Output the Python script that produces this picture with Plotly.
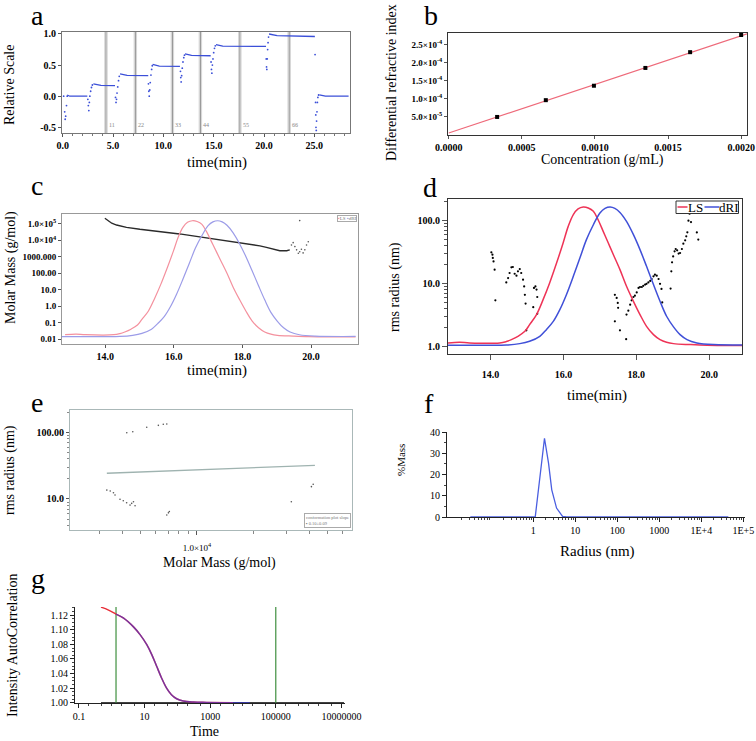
import plotly.graph_objects as go

W, H = 756, 741
SERIF = "Liberation Serif"


def px(x):
    return x / W


def py(y):
    return 1 - y / H


# ---------------- data ----------------
# (a) batch injections: plateaus (dense) and transitions (sparse dots)
a_plateau_t = [0.45, 0.7, 2.45, None, 3.05, 3.8, 5.2, None, 5.7, 6.4, 8.5, None,
               8.94, 9.6, 11.65, None, 12.15, 12.8, 14.7, None, 15.23, 15.9, 20.2, None,
               20.5, 21.3, 25.05, None, 25.5, 26.1, 28.4]
a_plateau_v = [0.02, 0.0, 0.0, None, 0.20, 0.175, 0.17, None, 0.36, 0.335, 0.33, None,
               0.51, 0.485, 0.48, None, 0.68, 0.655, 0.65, None, 0.83, 0.805, 0.80, None,
               1.0, 0.975, 0.96, None, 0.02, 0.0, 0.0]
a_dot_t = [0.1, 0.2, 0.25, 0.3, 0.38, 0.45,
           2.5, 2.55, 2.6, 2.65, 2.7, 2.78, 2.86, 2.95,
           5.25, 5.3, 5.35, 5.4, 5.47, 5.55, 5.62,
           8.52, 8.56, 8.6, 8.65, 8.7, 8.77, 8.84, 8.9,
           11.7, 11.73, 11.77, 11.82, 11.88, 11.95, 12.03, 12.1,
           14.74, 14.78, 14.82, 14.87, 14.93, 15.0, 15.08, 15.16,
           20.22, 20.25, 20.28, 20.32, 20.36, 20.4, 20.45,
           25.07, 25.12, 25.14, 25.16, 25.19, 25.22, 25.26, 25.3, 25.35, 25.42]
a_dot_v = [0.0, -0.25, -0.37, -0.32, -0.15, 0.0,
           -0.05, -0.15, -0.23, -0.1, 0.0, 0.08, 0.14, 0.18,
           -0.02, -0.1, -0.05, 0.05, 0.15, 0.25, 0.32,
           0.2, 0.08, 0.0, 0.1, 0.22, 0.34, 0.43, 0.49,
           0.4, 0.3, 0.23, 0.33, 0.45, 0.55, 0.62, 0.66,
           0.55, 0.43, 0.37, 0.5, 0.6, 0.7, 0.77, 0.81,
           0.6, 0.47, 0.43, 0.6, 0.75, 0.86, 0.95,
           0.67, -0.1, -0.3, -0.5, -0.55, -0.4, -0.25, -0.1, -0.02, 0.02]
a_cursor_t = [4.3, 7.22, 10.9, 13.68, 17.6, 22.5]
a_cursor_lbl = ["11", "22", "33", "44", "55", "66"]

# (b) dn/dc plot
b_conc = [0.000331, 0.000664, 0.000993, 0.001345, 0.001651, 0.002000]
b_dri = [5.0e-5, 9.65e-5, 1.365e-4, 1.858e-4, 2.295e-4, 2.77e-4]
b_fit_x = [0.0, 0.00204]
b_fit_y = [5.4e-6, 2.80e-4]

# (c)/(d) detector traces (normalised signal)
ls_t = [12.83, 13.15, 13.42, 14.25, 14.43, 14.57, 14.75, 14.94, 15.07, 15.26, 15.44, 15.62,
        15.81, 15.99, 16.13, 16.27, 16.40, 16.54, 16.68, 16.82, 16.95, 17.09, 17.23, 17.37,
        17.55, 17.73, 17.92, 18.10, 18.28, 18.47, 18.65, 18.83, 19.02, 19.48, 19.94, 20.67, 21.3]
ls_s = [0.017, 0.022, 0.017, 0.017, 0.027, 0.041, 0.065, 0.101, 0.149, 0.222, 0.330, 0.451,
        0.595, 0.740, 0.860, 0.945, 0.986, 1.0, 0.993, 0.969, 0.908, 0.824, 0.740, 0.655,
        0.547, 0.427, 0.318, 0.222, 0.137, 0.077, 0.041, 0.022, 0.012, 0.005, 0.0, -0.002, -0.002]
dri_t = [12.7, 13.97, 14.43, 14.80, 15.07, 15.35, 15.53, 15.72, 15.90, 16.08, 16.27, 16.45,
         16.63, 16.82, 17.0, 17.14, 17.28, 17.41, 17.55, 17.73, 17.92, 18.10, 18.28, 18.47,
         18.65, 18.83, 19.02, 19.20, 19.39, 19.66, 20.12, 21.3]
dri_s = [0.0, 0.0, 0.002, 0.012, 0.029, 0.065, 0.113, 0.173, 0.258, 0.366, 0.499, 0.631,
         0.764, 0.872, 0.957, 0.990, 1.0, 0.990, 0.961, 0.896, 0.8, 0.692, 0.571, 0.439,
         0.318, 0.210, 0.133, 0.077, 0.041, 0.017, 0.005, 0.002]

# (c) molar mass
mm_t = [13.99, 14.09, 14.19, 14.33, 14.62, 15.01, 15.40, 15.79, 16.17, 16.56, 16.96, 17.34,
        17.73, 18.12, 18.51, 18.70, 18.90, 19.09, 19.29, 19.38]
mm_val = [214000, 155000, 107000, 83000, 60000, 46000, 38000, 30000, 24000, 18200, 13800,
          10200, 7800, 5900, 4500, 3700, 2800, 2300, 2300, 2600]
mm_dot_t = [19.43, 19.48, 19.53, 19.58, 19.63, 19.67, 19.72, 19.77, 19.82, 19.87, 19.92, 19.67]
mm_dot_val = [5100, 7100, 4100, 2600, 1600, 2000, 2800, 1700, 2600, 5100, 8100, 155000]

# (d) rms radius
rms_t = [14.02, 14.05, 14.06, 14.08, 14.11, 14.13, 14.43, 14.48, 14.52, 14.57, 14.61, 14.66,
         14.71, 14.75, 14.80, 14.84, 14.89, 14.92, 14.94, 14.96, 14.98, 15.19, 15.23, 15.26,
         15.28, 15.17, 15.28,
         17.41, 17.46, 17.49, 17.50, 17.41, 17.55, 17.72, 17.73, 17.78, 17.83, 17.87, 17.92,
         17.96, 18.01, 18.06, 18.10, 18.15, 18.19, 18.24, 18.28, 18.33, 18.38, 18.42, 18.47,
         18.51, 18.56, 18.61, 18.65, 18.69, 18.71, 18.94, 18.96, 18.98, 19.01, 19.05, 19.08,
         19.12, 19.16, 19.20, 19.25, 19.29, 19.34, 19.37, 19.40, 19.43, 19.46, 19.50, 19.66, 19.70]
rms_val = [31.3, 28.8, 25.5, 22.5, 16.6, 5.4, 10.4, 12.2, 14.7, 18.1, 18.3, 14.3,
           13.3, 15.6, 17.0, 14.7, 11.5, 9.0, 6.6, 4.8, 1.8, 8.5, 9.0, 8.0,
           6.1, 4.2, 3.3,
           6.6, 5.9, 4.9, 4.1, 2.5, 1.8, 1.3, 3.2, 3.7, 4.6, 5.4, 6.1,
           6.4, 7.2, 8.5, 8.8, 8.8, 9.2, 9.6, 9.9, 10.4, 11.0, 11.8, 13.0,
           13.8, 13.3, 11.8, 9.9, 8.2, 5.0, 8.3, 15.6, 21.7, 27.0, 32.5, 35.4,
           33.7, 29.9, 30.6, 35.4, 43.0, 48.6, 56.4, 65.2, 100, 129, 95, 65, 50]

# (e) conformation plot
e_mm = [4207, 4530, 5380, 6210, 6600, 6890,
        3290, 3430, 3570, 3640, 3870, 4030, 4200, 4380, 4470, 4570, 4660,
        6890, 7030, 7110, 32000, 41000, 41900]
e_rms = [98.6, 102, 119, 127, 132, 133,
         13.6, 13.2, 12.4, 11.5, 9.9, 9.4, 8.8, 8.1, 8.6, 9.1, 7.9,
         5.75, 6.2, 6.5, 9.1, 15.3, 16.6]
e_fit_mm = [3290, 42800]
e_fit_rms = [24.3, 32.0]

# (f) DLS mass distribution
f_radius = [0.032, 1.12, 1.86, 2.32, 2.77, 3.6, 5.0, 6.3, 44000]
f_mass = [0, 0, 37.1, 25.4, 12.8, 4.2, 0.3, 0, 0]

# (g) intensity autocorrelation
g_fit_t = [0.47, 0.8, 1.35, 2.3, 4.6, 7.4, 11.7, 16.6, 23.4, 33, 47, 66, 95, 151, 309, 776, 5000]
g_fit_v = [1.131, 1.127, 1.1215, 1.116, 1.104, 1.093, 1.0795, 1.066, 1.050, 1.034, 1.020,
           1.011, 1.0055, 1.0024, 1.001, 1.0005, 1.0]
g_data_t = [1.35, 2.3, 4.6, 7.4, 11.7, 16.6, 23.4, 33, 47, 66, 95, 151, 309, 776, 5000, 16000]
g_data_v = [1.1215, 1.116, 1.104, 1.093, 1.0795, 1.066, 1.050, 1.034, 1.020, 1.011, 1.0055,
            1.0024, 1.001, 1.0005, 1.0, 1.0]
g_base_t = [0.47, 12000000]
g_base_v = [1.0, 1.0]
g_cursor_t = [1.35, 100000]

# ---------------- figure ----------------
fig = go.Figure()

# (a)
fig.add_trace(go.Scatter(x=a_plateau_t, y=a_plateau_v, mode="lines", xaxis="x", yaxis="y",
                         line=dict(color="#3b4fd8", width=1.3), connectgaps=False))
fig.add_trace(go.Scatter(x=a_dot_t, y=a_dot_v, mode="markers", xaxis="x", yaxis="y",
                         marker=dict(color="#3b4fd8", size=1.8)))
# (b)
fig.add_trace(go.Scatter(x=b_fit_x, y=b_fit_y, mode="lines", xaxis="x2", yaxis="y2",
                         line=dict(color="#ee6a7a", width=1.2)))
fig.add_trace(go.Scatter(x=b_conc, y=b_dri, mode="markers", xaxis="x2", yaxis="y2",
                         marker=dict(color="black", size=4, symbol="square")))
# (c)
fig.add_trace(go.Scatter(x=ls_t, y=ls_s, mode="lines", xaxis="x3", yaxis="y8",
                         line=dict(color="#f4919e", width=1.2, shape="spline")))
fig.add_trace(go.Scatter(x=dri_t, y=dri_s, mode="lines", xaxis="x3", yaxis="y8",
                         line=dict(color="#9c9ce8", width=1.2, shape="spline")))
fig.add_trace(go.Scatter(x=mm_t, y=mm_val, mode="lines", xaxis="x3", yaxis="y3",
                         line=dict(color="#2a2a2a", width=1.4)))
fig.add_trace(go.Scatter(x=mm_dot_t, y=mm_dot_val, mode="markers", xaxis="x3", yaxis="y3",
                         marker=dict(color="#555555", size=1.6)))
# (d)
fig.add_trace(go.Scatter(x=ls_t, y=ls_s, mode="lines", xaxis="x4", yaxis="y9",
                         line=dict(color="#ee3356", width=1.5, shape="spline")))
fig.add_trace(go.Scatter(x=dri_t, y=dri_s, mode="lines", xaxis="x4", yaxis="y9",
                         line=dict(color="#4050d8", width=1.5, shape="spline")))
fig.add_trace(go.Scatter(x=rms_t, y=rms_val, mode="markers", xaxis="x4", yaxis="y4",
                         marker=dict(color="black", size=2.2)))
# (e)
fig.add_trace(go.Scatter(x=e_fit_mm, y=e_fit_rms, mode="lines", xaxis="x5", yaxis="y5",
                         line=dict(color="#9fb3b0", width=1.3)))
fig.add_trace(go.Scatter(x=e_mm, y=e_rms, mode="markers", xaxis="x5", yaxis="y5",
                         marker=dict(color="#555555", size=1.6)))
# (f)
fig.add_trace(go.Scatter(x=f_radius, y=f_mass, mode="lines", xaxis="x6", yaxis="y6",
                         line=dict(color="#4a5ee0", width=1.3)))
# (g)
fig.add_trace(go.Scatter(x=g_base_t, y=g_base_v, mode="lines", xaxis="x7", yaxis="y7",
                         line=dict(color="black", width=1.2)))
for ct in g_cursor_t:
    fig.add_trace(go.Scatter(x=[ct, ct], y=[1.0, 1.1312], mode="lines", xaxis="x7", yaxis="y7",
                             line=dict(color="#3f8f3f", width=1.2)))
fig.add_trace(go.Scatter(x=g_fit_t, y=g_fit_v, mode="lines", xaxis="x7", yaxis="y7",
                         line=dict(color="#e8303a", width=1.5, shape="spline")))
fig.add_trace(go.Scatter(x=g_data_t, y=g_data_v, mode="lines", xaxis="x7", yaxis="y7",
                         line=dict(color="rgba(50,50,220,0.6)", width=1.5, shape="spline")))

# ---------------- axes ----------------
bold10 = dict(family=SERIF, size=10, color="black", weight="bold")
reg10 = dict(family=SERIF, size=10, color="black")


def ax(domain, anchor, **kw):
    d = dict(domain=domain, anchor=anchor, showgrid=False, zeroline=False, showline=True,
             mirror=True, linecolor="#777777", linewidth=1, ticks="outside", ticklen=3,
             tickcolor="#555555", tickfont=bold10, automargin=False)
    d.update(kw)
    return d


layout = dict(
    width=W, height=H, margin=dict(l=0, r=0, t=0, b=0, autoexpand=False), showlegend=False,
    paper_bgcolor="white", plot_bgcolor="white",
    # a
    xaxis=ax([px(62), px(350)], "y", range=[-0.066, 28.54], tickvals=[0, 5, 10, 15, 20, 25],
             ticktext=["0.0", "5.0", "10.0", "15.0", "20.0", "25.0"],
             minor=dict(ticks="outside", ticklen=2, dtick=1, tickcolor="#777")),
    yaxis=ax([py(133), py(32)], "x", range=[-0.591, 1.032], tickvals=[-0.5, 0, 0.5, 1.0],
             ticktext=["-0.5", "0.0", "0.5", "1.0"]),
    # b
    xaxis2=ax([px(448), px(747)], "y2", range=[-0.000005, 0.00204], linecolor="#333",
              tickvals=[0, 0.0005, 0.001, 0.0015, 0.002],
              ticktext=["0.0000", "0.0005", "0.0010", "0.0015", "0.0020"]),
    yaxis2=ax([py(135), py(33)], "x2", range=[0, 2.826e-4], linecolor="#333",
              tickvals=[5e-5, 1e-4, 1.5e-4, 2e-4, 2.5e-4],
              ticktext=["5.0×10<sup>-5</sup>", "1.0×10<sup>-4</sup>", "1.5×10<sup>-4</sup>",
                        "2.0×10<sup>-4</sup>", "2.5×10<sup>-4</sup>"],
              tickfont=dict(family=SERIF, size=9, color="black", weight="bold")),
    # c
    xaxis3=ax([px(62), px(358)], "y3", range=[12.74, 21.37], tickvals=[14, 16, 18, 20],
              ticktext=["14.0", "16.0", "18.0", "20.0"], linecolor="#999"),
    yaxis3=ax([py(344), py(214)], "x3", type="log", range=[-2.30, 5.59], linecolor="#999",
              tickvals=[1e5, 1e4, 1000, 100, 10, 1, 0.1, 0.01],
              ticktext=["1.0×10<sup>5</sup>", "1.0×10<sup>4</sup>", "1000.000", "100.00",
                        "10.0", "1.0", "0.1", "0.01"],
              tickfont=dict(family=SERIF, size=9, color="black", weight="bold")),
    yaxis8=dict(overlaying="y3", anchor="x3", range=[-0.063, 1.058], visible=False,
                showgrid=False, zeroline=False, automargin=False),
    # d
    xaxis4=ax([px(448), px(742)], "y4", range=[12.83, 20.90], tickvals=[14, 16, 18, 20],
              ticktext=["14.0", "16.0", "18.0", "20.0"], linecolor="#333",
              ticklen=5, ticklabelstandoff=6),
    yaxis4=ax([py(354), py(199)], "x4", type="log", range=[-0.122, 2.345], linecolor="#333",
              tickvals=[1, 10, 100], ticktext=["1.0", "10.0", "100.0"], ticklen=5,
              minor=dict(ticks="outside", ticklen=3, tickcolor="#555",
                         tickvals=[m * 10 ** k for k in range(0, 3) for m in range(2, 10)
                                   if m * 10 ** k < 220])),
    yaxis9=dict(overlaying="y4", anchor="x4", range=[-0.063, 1.058], visible=False,
                showgrid=False, zeroline=False, automargin=False),
    # e
    xaxis5=ax([px(70), px(352)], "y5", type="log", range=[3.32, 4.83], linecolor="#aab8b8",
              tickvals=[10000], ticktext=["1.0×10<sup>4</sup>"], ticklen=4,
              ticklabelstandoff=5, tickfont=dict(family=SERIF, size=9, color="black"),
              minor=dict(ticks="outside", ticklen=3, tickcolor="#888",
                         tickvals=[3000, 4000, 5000, 6000, 7000, 8000, 9000,
                                   20000, 30000, 40000, 50000, 60000])),
    yaxis5=ax([py(530), py(410)], "x5", type="log", range=[0.535, 2.334], linecolor="#aab8b8",
              tickvals=[10, 100], ticktext=["10.0", "100.00"], ticklen=3,
              minor=dict(ticks="outside", ticklen=2, tickcolor="#888",
                         tickvals=[4, 5, 6, 7, 8, 9, 20, 30, 40, 50, 60, 70, 80, 90, 200])),
    # f
    xaxis6=ax([px(447), px(745)], "y6", type="log", range=[-2.05, 5.04], mirror=False,
              linecolor="#222", tickcolor="#222", tickfont=reg10,
              tickvals=[1, 10, 100, 1000, 10000, 100000],
              ticktext=["1", "10", "100", "1000", "1E+4", "1E+5"], ticklen=4,
              minor=dict(ticks="outside", ticklen=2, tickcolor="#444",
                         tickvals=[m * 10 ** k for k in range(-2, 5) for m in range(2, 10)])),
    yaxis6=ax([py(517), py(432)], "x6", range=[0, 40.05], mirror=False, linecolor="#222",
              tickcolor="#222", tickfont=reg10, tickvals=[0, 10, 20, 30, 40], ticklen=4,
              minor=dict(ticks="outside", ticklen=2, dtick=5, tickcolor="#444")),
    # g
    xaxis7=ax([px(75), px(345)], "y7", type="log", range=[-1.12, 7.11], mirror=False,
              linecolor="#222", tickcolor="#222", tickfont=reg10,
              tickvals=[0.1, 10, 1000, 100000, 10000000],
              ticktext=["0.1", "10", "1000", "100000", "10000000"], ticklen=4,
              minor=dict(ticks="outside", ticklen=2, tickcolor="#444",
                         tickvals=[10 ** k for k in range(0, 7)] +
                                  [m * 10 ** k for k in range(-1, 7) for m in (2, 5)])),
    yaxis7=ax([py(703), py(607)], "x7", range=[0.9997, 1.1312], mirror=False,
              linecolor="#222", tickcolor="#222", tickfont=reg10,
              tickvals=[1.0, 1.02, 1.04, 1.06, 1.08, 1.10, 1.12],
              ticktext=["1.00", "1.02", "1.04", "1.06", "1.08", "1.10", "1.12"], ticklen=4,
              minor=dict(ticks="outside", ticklen=2, dtick=0.005, tickcolor="#444")),
)
fig.update_layout(**layout)

# ---------------- annotations ----------------
ann = []


def text(x, y, s, size=14, angle=0, **kw):
    d = dict(x=px(x), y=py(y), xref="paper", yref="paper", text=s, showarrow=False,
             textangle=angle, xanchor="center", yanchor="middle",
             font=dict(family=SERIF, size=size, color="black"))
    d.update(kw)
    ann.append(d)


# panel letters
for lx, ly, lt in [(37.5, 16, "a"), (431, 16, "b"), (37, 186, "c"), (430, 187, "d"),
                   (37, 402, "e"), (429, 403, "f"), (38, 578, "g")]:
    text(lx, ly, lt, size=28)

# axis titles
text(10, 85, "Relative Scale", 14, -90)
text(217, 162, "time(min)", 15)
text(391, 83, "Differential refractive index", 14, -90)
text(602, 160, "Concentration (g/mL)", 14)
text(11, 268, "Molar Mass (g/mol)", 14, -90)
text(217, 371, "time(min)", 15)
text(395, 287, "rms radius (nm)", 14, -90)
text(597, 395, "time(min)", 15)
text(10, 470, "rms radius (nm)", 14, -90)
text(219, 563, "Molar Mass (g/mol)", 14)
text(401, 460, "%Mass", 11, -90)
text(597, 551, "Radius (nm)", 15)
text(12, 646, "Intensity AutoCorrelation", 14, -90)
text(204, 731, "Time", 14)

# (a) cursor labels
for ct, cl in zip(a_cursor_t, a_cursor_lbl):
    ann.append(dict(x=ct, y=-0.46, xref="x", yref="y", text=cl, showarrow=False,
                    font=dict(family=SERIF, size=6, color="#888"), xanchor="left", xshift=1))

# (c) tiny legend
ann.append(dict(x=px(357), y=py(215), xref="paper", yref="paper", xanchor="right", yanchor="top",
                text="<span style='color:#f4919e'>▪</span>LS <span style='color:#9c9ce8'>▪</span>dRI",
                showarrow=False, font=dict(family=SERIF, size=5, color="#777"),
                bordercolor="#aaa", borderwidth=1, borderpad=0, bgcolor="white"))
# (e) legend box
ann.append(dict(x=px(351), y=py(528), xref="paper", yref="paper", xanchor="right", yanchor="bottom",
                text="conformation plot slope<br>▪ 0.10±0.09", align="left",
                showarrow=False, font=dict(family=SERIF, size=4.5, color="#777"),
                bordercolor="#aaa", borderwidth=1, borderpad=1, bgcolor="white"))
# (d) legend text
text(695.5, 207, "LS", 13)
text(728.5, 207, "dRI", 13)

shapes = []
# (a) cursor lines
for ct in a_cursor_t:
    shapes.append(dict(type="line", xref="x", yref="y domain", x0=ct - 0.12, x1=ct - 0.12,
                       y0=0, y1=1, line=dict(color="#c8c8c8", width=0.8), layer="below"))
    shapes.append(dict(type="line", xref="x", yref="y domain", x0=ct + 0.12, x1=ct + 0.12,
                       y0=0, y1=1, line=dict(color="#c8c8c8", width=0.8), layer="below"))
    shapes.append(dict(type="line", xref="x", yref="y domain", x0=ct, x1=ct, y0=0, y1=1,
                       line=dict(color="#808080", width=0.9), layer="below"))
# (d) legend box and samples
shapes.append(dict(type="rect", xref="paper", yref="paper", x0=px(676), x1=px(738.5),
                   y0=py(213.5), y1=py(201), line=dict(color="#333", width=1), fillcolor="white"))
shapes.append(dict(type="line", xref="paper", yref="paper", x0=px(677.5), x1=px(687.5),
                   y0=py(207), y1=py(207), line=dict(color="#ee3356", width=1.5)))
shapes.append(dict(type="line", xref="paper", yref="paper", x0=px(704.5), x1=px(719.5),
                   y0=py(207), y1=py(207), line=dict(color="#4050d8", width=1.5)))

fig.update_layout(annotations=ann, shapes=shapes)
fig.write_html("out.html", config={"displayModeBar": False},
               post_script="document.body.style.margin='0';document.body.style.overflow='hidden';")
